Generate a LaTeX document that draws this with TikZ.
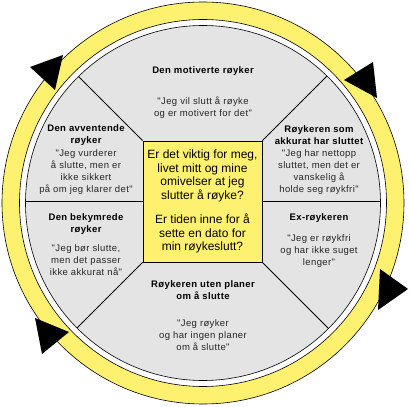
\documentclass[tikz,border=0pt]{standalone}
\usepackage{fontspec}
\setmainfont{Liberation Sans}
\newfontfamily\stagefont[LetterSpace=4]{Liberation Sans}
\usepackage{tikz}
\usetikzlibrary{positioning}

\definecolor{cycleyellow}{RGB}{255,241,112}
\definecolor{sectorgray}{RGB}{228,228,228}

\begin{document}
\begin{tikzpicture}[
    x=1pt, y=1pt,
    % Text styles
    stagetitle/.style={align=center, inner sep=0pt, font=\stagefont\fontsize{9.5}{12}\selectfont\bfseries},
    stagequote/.style={align=center, inner sep=0pt, text=black!85, font=\stagefont\fontsize{9.5}{12}\selectfont},
    question/.style={rectangle, draw, fill=cycleyellow, line width=0.8pt, minimum width=119pt, minimum height=121pt, inner sep=0pt, align=center, font=\fontsize{12}{13.7}\selectfont},
    % Line styles
    ring/.style={draw, line width=0.6pt},
    divider/.style={draw, line width=0.8pt},
    arrowtri/.style={fill=black}
]
    \useasboundingbox (-203,-205) rectangle (207,202);

    % Yellow cycle ring
    \fill[cycleyellow, even odd rule] (0,-1) circle (201pt) (0,-1) circle (183.5pt);
    \draw[ring] (0,-1) circle (201pt) (0,-1) circle (183.5pt);

    % Arrow heads on the ring
    \fill[arrowtri] (-173,135) -- (-140,147) -- (-148,112) -- cycle;
    \fill[arrowtri] (141,122) -- (170,140) -- (174,104) -- cycle;
    \fill[arrowtri] (-168,-116) -- (-134,-130) -- (-161,-152) -- cycle;
    \fill[arrowtri] (177,-67) -- (205,-87) -- (175,-108) -- cycle;

    % Grey disc with the six stages
    \fill[sectorgray] (0,-1) circle (177.5pt);

    % Centre question
    \node[question] (question) at (-0.5,0.5) {Er det viktig for meg,\\ livet mitt og mine\\ omivelser at jeg\\ slutter å røyke?\\[10pt] Er tiden inne for å\\ sette en dato for\\ min røykeslutt?};

    % Sector borders
    \begin{scope}
        \clip (0,-1) circle (177.5pt);
        \draw[divider] (question.north west) -- ++(135:120pt);
        \draw[divider] (question.north east) -- ++(45:120pt);
        \draw[divider] (question.west) -- ++(-150pt,0);
        \draw[divider] (question.east) -- ++(150pt,0);
        \draw[divider] (question.south west) -- ++(225:120pt);
        \draw[divider] (question.south east) -- ++(-45:120pt);
    \end{scope}
    \draw[ring] (0,-1) circle (177.5pt);

    % Stages
    \node[stagetitle] (motivTitle) at (0,131) {Den motiverte røyker};
    \node[stagequote, below=21pt of motivTitle] (motivQuote) {"Jeg vil slutt å røyke\\ og er motivert for det"};

    \node[stagetitle] (waitTitle) at (-117,67) {Den avventende\\ røyker};
    \node[stagequote, below=4pt of waitTitle] (waitQuote) {"Jeg vurderer\\ å slutte, men er\\ ikke sikkert\\ på om jeg klarer det"};

    \node[stagetitle] (quitTitle) at (116,67) {Røykeren som\\ akkurat har sluttet};
    \node[stagequote, below=5pt of quitTitle] (quitQuote) {"Jeg har nettopp\\ sluttet, men det er\\ vanskelig å\\ holde seg røykfri"};

    \node[stagetitle] (worryTitle) at (-117,-22.5) {Den bekymrede\\ røyker};
    \node[stagequote, below=9pt of worryTitle] (worryQuote) {"Jeg bør slutte,\\ men det passer\\ ikke akkurat nå"};

    \node[stagetitle] (exTitle) at (116,-16.5) {Ex-røykeren};
    \node[stagequote, below=11pt of exTitle] (exQuote) {"Jeg er røykfri\\ og har ikke suget\\ lenger"};

    \node[stagetitle] (noplanTitle) at (0,-88.5) {Røykeren uten planer\\ om å slutte};
    \node[stagequote, below=19pt of noplanTitle] (noplanQuote) {"Jeg røyker\\ og har ingen planer\\ om å slutte"};
\end{tikzpicture}
\end{document}
